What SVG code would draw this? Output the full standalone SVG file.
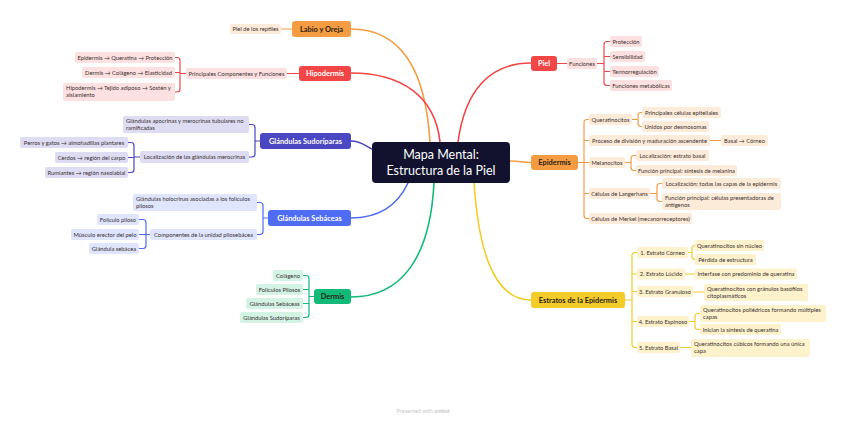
<svg xmlns="http://www.w3.org/2000/svg" width="848" height="422" viewBox="0 0 848 422">
<style>
text{font-family:Lato,"Open Sans","Liberation Sans",sans-serif}
.s{font-size:5.8px;fill:#3a3030}
.c{text-anchor:middle}
.m{font-size:7.4px;font-weight:bold;text-anchor:middle}
.w{fill:#fff}
.d{fill:#2a2218}
.ln{fill:none;stroke-width:1.2;stroke-linecap:round}
.mb{fill:none;stroke-width:1.6;stroke-linecap:round}
.lo{fill:#fdebd9}.so{stroke:#f59c42}
.lr{fill:#fde0e0}.sr{stroke:#f24646}
.li{fill:#dedcf3}.si{stroke:#4b46c2}
.lb{fill:#dfe5fd}.sb{stroke:#4f6cf5}
.lg{fill:#d3f3e5}.sg{stroke:#11bb77}
.ly{fill:#fdf2cc}.sy{stroke:#f3cc2a}
</style>
<rect width="848" height="422" fill="#fff"/>
<g id="connectors">
<path class="mb so" d="M351 29 C395 29 425 60 430 142"/>
<path class="mb sr" d="M351 73 C400 73 435 95 440 142"/>
<path class="mb si" d="M351 141 C362 141 366 147 374 150"/>
<path class="mb sb" d="M351 218 C385 218 400 200 408 183"/>
<path class="mb sg" d="M351 297 C400 297 430 260 434 183"/>
<path class="mb sr" d="M531 63 C490 63 465 90 458 142"/>
<path class="mb so" d="M510 161 C520 161 522 162.5 531 162.5"/>
<path class="mb sy" d="M531 300 C490 300 478 240 474 183"/>
<path class="ln so" d="M281 29 H292"/>
<path class="ln sr" d="M287 73.5 H299"/>
<path class="ln sr" d="M186 73.5 H180 M175 57.5 H177 Q180 57.5 180 60.5 V89 Q180 92 177 92 H175 M180 72.5 H175"/>
<path class="ln si" d="M260 141 H255 M249 124.5 H252 Q255 124.5 255 127.5 V154 Q255 157 252 157 H249"/>
<path class="ln si" d="M140 157 H134 M128 142.5 H131 Q134 142.5 134 145.5 V169.5 Q134 172.5 131 172.5 H128 M134 157.5 H128"/>
<path class="ln sb" d="M268 218 H263 M257 202.5 H260 Q263 202.5 263 205.5 V231.5 Q263 234.5 260 234.5 H257"/>
<path class="ln sb" d="M150 234.5 H146 M139 219.5 H143 Q146 219.5 146 222.5 V245.5 Q146 248.5 143 248.5 H139 M146 234.5 H139"/>
<path class="ln sg" d="M314 296.5 H309 M303 275.5 H306 Q309 275.5 309 278.5 V314.5 Q309 317.5 306 317.5 H303 M309 289.5 H303 M309 303.5 H303"/>
<path class="ln sr" d="M557 63.5 H567"/>
<path class="ln sr" d="M597 63.5 H604 M610 41.5 H607 Q604 41.5 604 44.5 V82.5 Q604 85.5 607 85.5 H610 M604 56.5 H610 M604 71.5 H610"/>
<path class="ln so" d="M578 162.5 H584 M589 119.5 H587 Q584 119.5 584 122.5 V215.5 Q584 218.5 587 218.5 H589 M584 140.5 H589 M584 162.5 H589 M584 193.5 H589"/>
<path class="ln so" d="M632 119.5 H638 M642 112.5 H641 Q638 112.5 638 115.5 V123.5 Q638 126.5 641 126.5 H642"/>
<path class="ln so" d="M710 140.5 H721"/>
<path class="ln so" d="M625 162.5 H631 M636 155.5 H634 Q631 155.5 631 158.5 V167.5 Q631 170.5 634 170.5 H636"/>
<path class="ln so" d="M650 193.5 H657 M662 183.5 H660 Q657 183.5 657 186.5 V198.5 Q657 201.5 660 201.5 H662"/>
<path class="ln sy" d="M625 300 H632 M637 252.5 H635 Q632 252.5 632 255.5 V344.5 Q632 347.5 635 347.5 H637 M632 274 H637 M632 291.5 H637 M632 321.5 H637"/>
<path class="ln sy" d="M688 252.5 H692 M695 245.5 H695 Q692 245.5 692 248.5 V256.5 Q692 259.5 695 259.5"/>
<path class="ln sy" d="M685 274 H695"/>
<path class="ln sy" d="M693 292 H704"/>
<path class="ln sy" d="M689 321.5 H695 M700 313.5 H698 Q695 313.5 695 316.5 V326.5 Q695 329.5 698 329.5 H700"/>
<path class="ln sy" d="M680 347.5 H691"/>
</g>
<g id="center">
<rect x="372" y="142" width="138" height="41" rx="4" fill="#12122e"/>
<text x="441" y="159" text-anchor="middle" font-size="12.5" fill="#fff">Mapa Mental:</text>
<text x="441" y="174.5" text-anchor="middle" font-size="12.5" fill="#fff">Estructura de la Piel</text>
</g>
<g id="labio">
<rect x="292" y="21" width="59" height="16" rx="3" fill="#f59c42"/>
<text class="m d" x="321.5" y="31.6">Labio y Oreja</text>
<rect class="lo" x="230" y="24" width="51" height="10" rx="2"/>
<text class="s c" x="255.5" y="31">Piel de los reptiles</text>
</g>
<g id="hipodermis">
<rect x="299" y="66" width="52" height="15" rx="3" fill="#f24646"/>
<text class="m w" x="325" y="76.1">Hipodermis</text>
<rect class="lr" x="186" y="68" width="101" height="11" rx="2"/>
<text class="s c" x="236.5" y="75.5">Principales Componentes y Funciones</text>
<rect class="lr" x="75" y="52" width="100" height="11" rx="2"/>
<text class="s c" x="125" y="59.5">Epidermis → Queratina → Protección</text>
<rect class="lr" x="82" y="67" width="93" height="11" rx="2"/>
<text class="s c" x="128.5" y="74.5">Dermis → Colágeno → Elasticidad</text>
<rect class="lr" x="63" y="83" width="112" height="18" rx="2"/>
<text class="s" x="66" y="90">Hipodermis → Tejido adiposo → Sostén y</text>
<text class="s" x="66" y="97">aislamiento</text>
</g>
<g id="sudoriparas">
<rect x="260" y="133" width="91" height="16" rx="3" fill="#4b46c2"/>
<text class="m w" x="305.5" y="143.6">Glándulas Sudoríparas</text>
<rect class="li" x="123" y="116" width="126" height="17" rx="2"/>
<text class="s" x="126" y="123">Glándulas apocrinas y merocrinas tubulares no</text>
<text class="s" x="126" y="130">ramificadas</text>
<rect class="li" x="140" y="151" width="109" height="12" rx="2"/>
<text class="s c" x="194.5" y="159">Localización de las glándulas merocrinas</text>
<rect class="li" x="20" y="137" width="108" height="11" rx="2"/>
<text class="s c" x="74" y="144.5">Perros y gatos → almohadillas plantares</text>
<rect class="li" x="55" y="152" width="73" height="11" rx="2"/>
<text class="s c" x="91.5" y="159.5">Cerdos → región del carpo</text>
<rect class="li" x="45" y="167" width="83" height="11" rx="2"/>
<text class="s c" x="86.5" y="174.5">Rumiantes → región nasolabial</text>
</g>
<g id="sebaceas">
<rect x="268" y="210" width="83" height="16" rx="3" fill="#4f6cf5"/>
<text class="m w" x="309.5" y="220.6">Glándulas Sebáceas</text>
<rect class="lb" x="133" y="194" width="124" height="17" rx="2"/>
<text class="s" x="136" y="201">Glándulas holocrinas asociadas a los folículos</text>
<text class="s" x="136" y="208">pilosos</text>
<rect class="lb" x="150" y="229" width="107" height="11" rx="2"/>
<text class="s c" x="203.5" y="236.5">Componentes de la unidad pilosebácea</text>
<rect class="lb" x="97" y="214" width="42" height="11" rx="2"/>
<text class="s c" x="118" y="221.5">Folículo piloso</text>
<rect class="lb" x="71" y="229" width="68" height="11" rx="2"/>
<text class="s c" x="105" y="236.5">Músculo erector del pelo</text>
<rect class="lb" x="89" y="243" width="50" height="11" rx="2"/>
<text class="s c" x="114" y="250.5">Glándula sebácea</text>
</g>
<g id="dermis">
<rect x="314" y="289" width="37" height="15" rx="3" fill="#11bb77"/>
<text class="m d" x="332.5" y="299.1">Dermis</text>
<rect class="lg" x="273" y="270" width="30" height="11" rx="2"/>
<text class="s c" x="288" y="277.5">Colágeno</text>
<rect class="lg" x="256" y="284" width="47" height="11" rx="2"/>
<text class="s c" x="279.5" y="291.5">Folículos Pilosos</text>
<rect class="lg" x="246" y="298" width="57" height="11" rx="2"/>
<text class="s c" x="274.5" y="305.5">Glándulas Sebáceas</text>
<rect class="lg" x="240" y="312" width="63" height="11" rx="2"/>
<text class="s c" x="271.5" y="319.5">Glándulas Sudoríparas</text>
</g>
<g id="piel">
<rect x="531" y="56" width="26" height="15" rx="3" fill="#f24646"/>
<text class="m w" x="544" y="66.1">Piel</text>
<rect class="lr" x="567" y="58" width="30" height="11" rx="2"/>
<text class="s c" x="582" y="65.5">Funciones</text>
<rect class="lr" x="610" y="36" width="32" height="11" rx="2"/>
<text class="s c" x="626" y="43.5">Protección</text>
<rect class="lr" x="610" y="51" width="35" height="11" rx="2"/>
<text class="s c" x="627.5" y="58.5">Sensibilidad</text>
<rect class="lr" x="610" y="66" width="49" height="11" rx="2"/>
<text class="s c" x="634.5" y="73.5">Termorregulación</text>
<rect class="lr" x="610" y="80" width="62" height="11" rx="2"/>
<text class="s c" x="641" y="87.5">Funciones metabólicas</text>
</g>
<g id="epidermis">
<rect x="531" y="155" width="47" height="15" rx="3" fill="#f59c42"/>
<text class="m d" x="554.5" y="165.1">Epidermis</text>
<rect class="lo" x="589" y="114" width="43" height="11" rx="2"/>
<text class="s c" x="610.5" y="121.5">Queratinocitos</text>
<rect class="lo" x="589" y="135" width="121" height="11" rx="2"/>
<text class="s c" x="649.5" y="142.5">Proceso de división y maduración ascendente</text>
<rect class="lo" x="589" y="157" width="36" height="11" rx="2"/>
<text class="s c" x="607" y="164.5">Melanocitos</text>
<rect class="lo" x="589" y="188" width="61" height="11" rx="2"/>
<text class="s c" x="619.5" y="195.5">Células de Langerhans</text>
<rect class="lo" x="589" y="213" width="103" height="11" rx="2"/>
<text class="s c" x="640.5" y="220.5">Células de Merkel (mecanorreceptores)</text>
<rect class="lo" x="642" y="107" width="79" height="11" rx="2"/>
<text class="s c" x="681.5" y="114.5">Principales células epiteliales</text>
<rect class="lo" x="642" y="121" width="67" height="11" rx="2"/>
<text class="s c" x="675.5" y="128.5">Unidos por desmosomas</text>
<rect class="lo" x="721" y="135" width="47" height="11" rx="2"/>
<text class="s c" x="744.5" y="142.5">Basal → Córneo</text>
<rect class="lo" x="636" y="150" width="73" height="11" rx="2"/>
<text class="s c" x="672.5" y="157.5">Localización: estrato basal</text>
<rect class="lo" x="636" y="165" width="101" height="11" rx="2"/>
<text class="s c" x="686.5" y="172.5">Función principal: síntesis de melanina</text>
<rect class="lo" x="662" y="178" width="119" height="11" rx="2"/>
<text class="s c" x="721.5" y="185.5">Localización: todas las capas de la epidermis</text>
<rect class="lo" x="662" y="193" width="119" height="17" rx="2"/>
<text class="s" x="665" y="200">Función principal: células presentadoras de</text>
<text class="s" x="665" y="207">antígenos</text>
</g>
<g id="estratos">
<rect x="531" y="292" width="94" height="16" rx="3" fill="#f3cc2a"/>
<text class="m d" x="578" y="302.6">Estratos de la Epidermis</text>
<rect class="ly" x="637" y="247" width="51" height="11" rx="2"/>
<text class="s c" x="662.5" y="254.5">1. Estrato Córneo</text>
<rect class="ly" x="637" y="268.5" width="48" height="11" rx="2"/>
<text class="s c" x="661" y="276">2. Estrato Lúcido</text>
<rect class="ly" x="637" y="286" width="56" height="11" rx="2"/>
<text class="s c" x="665" y="293.5">3. Estrato Granuloso</text>
<rect class="ly" x="637" y="316" width="52" height="11" rx="2"/>
<text class="s c" x="663" y="323.5">4. Estrato Espinoso</text>
<rect class="ly" x="637" y="342" width="43" height="11" rx="2"/>
<text class="s c" x="658.5" y="349.5">5. Estrato Basal</text>
<rect class="ly" x="695" y="240" width="69" height="11" rx="2"/>
<text class="s c" x="729.5" y="247.5">Queratinocitos sin núcleo</text>
<rect class="ly" x="695" y="254" width="61" height="11" rx="2"/>
<text class="s c" x="725.5" y="261.5">Pérdida de estructura</text>
<rect class="ly" x="695" y="268.5" width="102" height="11" rx="2"/>
<text class="s c" x="746" y="276">Interfase con predominio de queratina</text>
<rect class="ly" x="704" y="284" width="104" height="17" rx="2"/>
<text class="s" x="707" y="291">Queratinocitos con gránulos basófilos</text>
<text class="s" x="707" y="298">citoplasmáticos</text>
<rect class="ly" x="700" y="305" width="126" height="17" rx="2"/>
<text class="s" x="703" y="312">Queratinocitos poliédricos formando múltiples</text>
<text class="s" x="703" y="319">capas</text>
<rect class="ly" x="700" y="324" width="81" height="11" rx="2"/>
<text class="s c" x="740.5" y="331.5">Inician la síntesis de queratina</text>
<rect class="ly" x="691" y="339" width="119" height="18" rx="2"/>
<text class="s" x="694" y="346">Queratinocitos cúbicos formando una única</text>
<text class="s" x="694" y="353">capa</text>
</g>
<g id="footer">
<text x="423" y="413" text-anchor="middle" font-size="5.5" fill="#c8c8c8">Presented with <tspan font-weight="bold">xmind</tspan></text>
</g>
</svg>
